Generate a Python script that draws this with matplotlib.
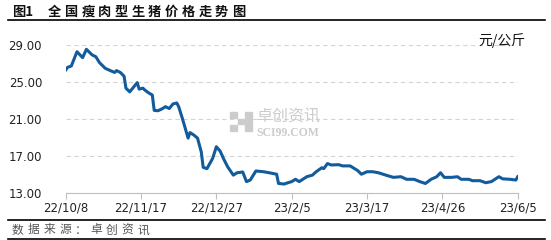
import matplotlib
matplotlib.use('Agg')
import matplotlib.pyplot as plt
import matplotlib.dates as mdates
from matplotlib.patches import Rectangle
import pandas as pd

plt.rcParams['font.family'] = ['Noto Sans CJK SC', 'DejaVu Sans']

# 全国瘦肉型生猪价格 (元/公斤)
dates = ['2022-10-08', '2022-10-09', '2022-10-11', '2022-10-14', '2022-10-17', '2022-10-19',
         '2022-10-22', '2022-10-24', '2022-10-26', '2022-10-29', '2022-10-31', '2022-11-03',
         '2022-11-04', '2022-11-06', '2022-11-08', '2022-11-09', '2022-11-11', '2022-11-13',
         '2022-11-15', '2022-11-16', '2022-11-18', '2022-11-19', '2022-11-21', '2022-11-23',
         '2022-11-24', '2022-11-26', '2022-11-28', '2022-11-30', '2022-12-02', '2022-12-04',
         '2022-12-06', '2022-12-07', '2022-12-09', '2022-12-10', '2022-12-12', '2022-12-13',
         '2022-12-15', '2022-12-17', '2022-12-19', '2022-12-20', '2022-12-22', '2022-12-25',
         '2022-12-27', '2022-12-29', '2022-12-31', '2023-01-02', '2023-01-05', '2023-01-07',
         '2023-01-10', '2023-01-12', '2023-01-14', '2023-01-17', '2023-01-21', '2023-01-24',
         '2023-01-28', '2023-01-29', '2023-02-01', '2023-02-03', '2023-02-05', '2023-02-07',
         '2023-02-09', '2023-02-13', '2023-02-16', '2023-02-18', '2023-02-21', '2023-02-22',
         '2023-02-24', '2023-02-26', '2023-03-02', '2023-03-04', '2023-03-08', '2023-03-12',
         '2023-03-14', '2023-03-17', '2023-03-20', '2023-03-23', '2023-03-27', '2023-03-31',
         '2023-04-04', '2023-04-07', '2023-04-11', '2023-04-14', '2023-04-17', '2023-04-20',
         '2023-04-23', '2023-04-25', '2023-04-27', '2023-05-01', '2023-05-04', '2023-05-06',
         '2023-05-10', '2023-05-12', '2023-05-16', '2023-05-19', '2023-05-22', '2023-05-26',
         '2023-05-28', '2023-06-01', '2023-06-04', '2023-06-05']
prices = [26.26, 26.55, 26.70, 28.24, 27.60, 28.50,
          27.90, 27.70, 27.05, 26.45, 26.26, 26.00,
          26.20, 26.00, 25.60, 24.30, 23.90, 24.40,
          24.90, 24.20, 24.30, 24.10, 23.80, 23.56,
          21.90, 21.86, 22.05, 22.30, 22.10, 22.60,
          22.70, 22.30, 21.00, 20.30, 18.90, 19.50,
          19.24, 18.90, 17.40, 15.75, 15.60, 16.70,
          17.97, 17.50, 16.60, 15.80, 14.90, 15.16,
          15.24, 14.20, 14.37, 15.35, 15.27, 15.16,
          15.00, 14.00, 13.94, 14.08, 14.20, 14.45,
          14.20, 14.73, 14.90, 15.27, 15.70, 15.60,
          16.15, 16.00, 16.03, 15.90, 15.90, 15.40,
          15.00, 15.27, 15.27, 15.16, 14.90, 14.66,
          14.73, 14.45, 14.45, 14.20, 14.00, 14.45,
          14.73, 15.16, 14.66, 14.66, 14.73, 14.45,
          14.45, 14.30, 14.30, 14.08, 14.20, 14.73,
          14.50, 14.45, 14.37, 14.73]
xtick_dates = ['2022-10-08', '2022-11-17', '2022-12-27', '2023-02-05',
               '2023-03-17', '2023-04-26', '2023-06-05']
xtick_labels = ['22/10/8', '22/11/17', '22/12/27', '23/2/5', '23/3/17', '23/4/26', '23/6/5']
yticks = [13, 17, 21, 25, 29]

x = pd.to_datetime(dates)
xt = pd.to_datetime(xtick_dates)

W, H = 551, 240
fig = plt.figure(figsize=(W / 100, H / 100), dpi=100)
ax = fig.add_axes([0.1192, 0.197, 0.8204, 0.6168])

ax.plot(x, prices, color='#125b9c', linewidth=2.2, solid_joinstyle='round', zorder=3)

ax.set_xlim(xt[0], xt[-1])
ax.set_ylim(13, 29)
ax.set_yticks(yticks)
ax.set_yticklabels(['%.2f' % v for v in yticks], family='DejaVu Sans')
ax.set_xticks(xt)
ax.set_xticklabels(xtick_labels, family='DejaVu Sans')
ax.tick_params(axis='y', length=0, pad=17, labelsize=8.5, labelcolor='#222222')
ax.tick_params(axis='x', length=4, color='#bfbfbf', width=0.8, pad=2, labelsize=8.5,
               labelcolor='#222222')
ax.grid(axis='y', linestyle=(0, (4, 3)), color='#d4d4d4', linewidth=0.8)
for s in ['top', 'right', 'left']:
    ax.spines[s].set_visible(False)
ax.spines['bottom'].set_color('#bfbfbf')
ax.spines['bottom'].set_linewidth(0.8)
ax.set_axisbelow(True)


def spaced(text, x0, y0, pitch, **kw):
    # 逐字放置, 模拟字间距
    for i, ch in enumerate(text):
        fig.text((x0 + i * pitch) / W, 1 - y0 / H, ch, va='center', ha='left', **kw)


# unit
fig.text(478 / W, 1 - 41 / H, '元/公斤', fontsize=10, color='#111111', va='center')

# title and frame lines
fig.text(12 / W, 1 - 12 / H, '图1', fontsize=9.5, fontweight='bold', color='#111111',
         va='center')
spaced('全国瘦肉型生猪价格走势图', 48, 12, 16.7, fontsize=9.5, fontweight='bold',
       color='#111111')
fig.add_artist(plt.Line2D([8 / W, 545 / W], [1 - 20 / H, 1 - 20 / H], color='black',
                          linewidth=1.2))
fig.add_artist(plt.Line2D([8 / W, 545 / W], [1 - 219.5 / H, 1 - 219.5 / H], color='black',
                          linewidth=1.2))
fig.add_artist(plt.Line2D([8 / W, 545 / W], [1 - 238.5 / H, 1 - 238.5 / H], color='black',
                          linewidth=1.2))
spaced('数据来源：卓创资讯', 12, 230, 15.7, fontsize=8.5, color='#555555')

# watermark
wm = '#cccccc'
for i in range(3):
    for j in range(3):
        if (i + j) % 2 == 0 or i == 2:
            fig.add_artist(Rectangle((0.418 + i * 0.0135, 0.455 + j * 0.027), 0.012, 0.024,
                                     transform=fig.transFigure, color=wm, zorder=1))
fig.text(0.465, 0.515, '卓创资讯', fontsize=11.5, color=wm, va='center', zorder=1)
fig.text(0.465, 0.447, 'SCI99.COM', fontsize=8.5, color=wm, va='center',
         family='Liberation Serif', fontweight='bold', zorder=1)

fig.savefig('out.png', dpi=100)
